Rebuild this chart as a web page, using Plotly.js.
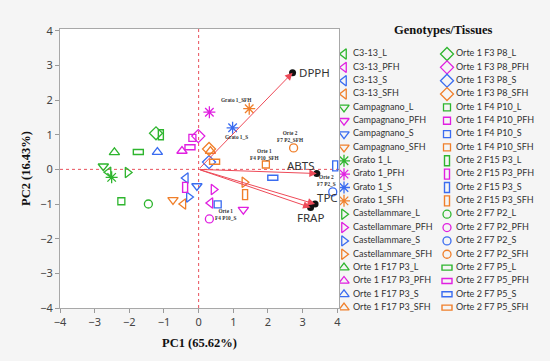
<!DOCTYPE html>
<html><head><meta charset="utf-8">
<script src="https://cdn.plot.ly/plotly-3.0.1.min.js"></script>
<style>html,body{margin:0;padding:0;background:#f5f5f5;}#chart{width:550px;height:361px;}</style>
</head><body><div id="chart"></div>
<script>
// ---- data ----
const genotypes = ['C3-13','Campagnano','Grato 1','Castellammare','Orte 1 F17 P3','Orte 1 F3 P8','Orte 1 F4 P10','Orte 2 F15 P3','Orte 2 F7 P2','Orte 2 F7 P5'];
const tissues = ['L','PFH','S','SFH'];
const pc1L   = [-2.60, -2.75, -2.51, -2.05, -2.43, -1.23, -2.23, -1.09, -1.45, -1.74];
const pc2L   = [-0.08,  0.09, -0.23, -0.09,  0.49,  1.04, -0.92,  1.00, -1.00,  0.50];
const pc1PFH = [ 0.34,  1.29,  0.31,  0.43, -0.48, -0.01, -0.18, -0.39,  0.31, -0.25];
const pc2PFH = [-0.97, -1.16,  1.65, -0.58,  0.53,  0.96,  0.91, -0.52, -1.43,  0.64];
const pc1S   = [-0.37, -0.05,  0.98, -0.28, -1.19,  0.30,  0.55,  3.94,  3.87,  2.14];
const pc2S   = [-0.25, -0.48,  1.20, -0.80,  0.50,  0.21, -1.01,  0.10, -0.65, -0.24];
const pc1SFH = [-0.44, -0.74,  1.46,  1.32,  0.34,  0.30,  1.94,  1.34,  2.74,  0.46];
const pc2SFH = [-1.00, -0.88,  1.75, -0.37,  0.53,  0.59,  0.14, -0.73,  0.62,  0.22];
const loadVars = ['DPPH','ABTS','TPC','FRAP'];
const loadPC1  = [2.71, 3.41, 3.36, 3.23];
const loadPC2  = [2.79, -0.12, -1.00, -1.10];
const pointLabels = ['Grato 1_SFH','Grato 1_S','Orte 2 F7 P2_SFH','Orte 1 F4 P10_SFH','Orte 2 F7 P2_S','Orte 1 F4 P10_S'];

// ---- styles ----
const scoresX = {L:pc1L, PFH:pc1PFH, S:pc1S, SFH:pc1SFH};
const scoresY = {L:pc2L, PFH:pc2PFH, S:pc2S, SFH:pc2SFH};
const tissueColor = {L:'#2eb52e', PFH:'#e01fe0', S:'#3a6cf0', SFH:'#f07f2a'};
const symbolOf = {
  'C3-13':{s:'triangle-left-open',z:9},'Campagnano':{s:'triangle-down-open',z:9},'Grato 1':{s:'asterisk-open',z:10},
  'Castellammare':{s:'triangle-right-open',z:9},'Orte 1 F17 P3':{s:'triangle-up-open',z:9},'Orte 1 F3 P8':{s:'diamond-open',z:10},
  'Orte 1 F4 P10':{s:'square-open',z:7},'Orte 2 F15 P3':{r:[2.5,5]},'Orte 2 F7 P2':{s:'circle-open',z:8},'Orte 2 F7 P5':{r:[5,2.5]}
};
const labelShift = {
  'Grato 1_SFH':[-13,9,'Grato 1_SFH'],'Grato 1_S':[4,-9,'Grato 1_S'],
  'Orte 2 F7 P2_SFH':[-3,11,'Orte 2<br>F7 P2_SFH'],'Orte 1 F4 P10_SFH':[-1,10,'Orte 1<br>F4 P10_SFH'],
  'Orte 2 F7 P2_S':[-6,11,'Orte 2<br>F7 P2_S'],'Orte 1 F4 P10_S':[8,-10,'Orte 1<br>F4 P10_S']
};
const loadShift = {DPPH:[4,0,'left'],ABTS:[-16,8,'center'],TPC:[12,7,'center'],FRAP:[0,-10,'center']};
const arrowColor = '#ee4a58';

const traces = [];
const shapes = [
  {type:'rect', xref:'x domain', yref:'y domain', x0:0, x1:1, y0:0, y1:1, fillcolor:'#ffffff', line:{width:0}, layer:'below'},
  {type:'line', xref:'x', yref:'y domain', x0:0, x1:0, y0:0, y1:1, line:{color:'#e8505c', width:1, dash:'dot'}, layer:'below'},
  {type:'line', xref:'x domain', yref:'y', x0:0, x1:1, y0:0, y1:0, line:{color:'#e8505c', width:1, dash:'dot'}, layer:'below'}
];
const entries = [];
genotypes.forEach((g,gi)=>{
  tissues.forEach(t=>{
    entries.push({g, t, name:g+'_'+t, x:scoresX[t][gi], y:scoresY[t][gi]});
  });
});

function mk(x, y, g, t, xa, ya){
  const sym = symbolOf[g];
  if (sym.r) {
    // rectangle glyph: pixel-sized rect anchored at the data point
    shapes.push({type:'rect', xref:xa, yref:ya, xsizemode:'pixel', ysizemode:'pixel', xanchor:x, yanchor:y,
      x0:-sym.r[0], x1:sym.r[0], y0:-sym.r[1], y1:sym.r[1], line:{color:tissueColor[t], width:1.4},
      fillcolor:'rgba(0,0,0,0)', layer:'above'});
    return;
  }
  traces.push({type:'scatter', mode:'markers', x:[x], y:[y], xaxis:xa, yaxis:ya,
    marker:{symbol:sym.s, size:sym.z, color:tissueColor[t], line:{color:tissueColor[t], width:1.3}},
    cliponaxis:true, hoverinfo:'skip', showlegend:false});
}

// score points
entries.forEach(e=>{ mk(e.x, e.y, e.g, e.t, 'x', 'y'); });

// loading end dots
traces.push({type:'scatter', mode:'markers', x:loadPC1, y:loadPC2, xaxis:'x', yaxis:'y',
  marker:{symbol:'circle', size:7, color:'#111'}, cliponaxis:false, hoverinfo:'skip', showlegend:false});

// custom legend (two columns) in its own hidden axes, units = pixels
const rows = 20, row0 = 54, rowH = 13.35;
const colSym = [4, 107], colTxt = [13, 116];
entries.forEach((e,i)=>{
  const c = Math.floor(i/rows), r = i%rows;
  mk(colSym[c], row0 + r*rowH, e.g, e.t, 'x2', 'y2');
});
traces.push({type:'scatter', mode:'text', xaxis:'x2', yaxis:'y2',
  x: entries.map((e,i)=>colTxt[Math.floor(i/rows)]),
  y: entries.map((e,i)=>row0 + (i%rows)*rowH),
  text: entries.map(e=>e.name), textposition:'middle right',
  textfont:{family:'Lato', size:9, color:'#333'}, cliponaxis:false, hoverinfo:'skip', showlegend:false});

const annotations = [];
loadVars.forEach((v,i)=>{
  annotations.push({x:loadPC1[i], y:loadPC2[i], ax:0, ay:0, axref:'x', ayref:'y', xref:'x', yref:'y',
    text:'', showarrow:true, arrowhead:2, arrowsize:1.5, arrowwidth:1, arrowcolor:arrowColor, standoff:0});
});
loadVars.forEach((v,i)=>{
  const s = loadShift[v];
  annotations.push({x:loadPC1[i], y:loadPC2[i], xref:'x', yref:'y', text:v, showarrow:false,
    xshift:s[0], yshift:s[1], xanchor:s[2], yanchor:'middle',
    font:{family:'Noto Sans', size:11.5, color:'#333'}});
});
pointLabels.forEach(n=>{
  const e = entries.find(q=>q.name===n); const s = labelShift[n];
  annotations.push({x:e.x, y:e.y, xref:'x', yref:'y', text:'<b>'+s[2]+'</b>', showarrow:false, xshift:s[0], yshift:s[1],
    xanchor:'center', yanchor:'middle', font:{family:'Liberation Serif', size:5.3, color:'#333'}});
});
annotations.push({xref:'x2', yref:'y2', x:103, y:30, text:'<b>Genotypes/Tissues</b>', showarrow:false,
  xanchor:'center', yanchor:'middle', font:{family:'Liberation Serif', size:12.5, color:'#111'}});

const axFont = {family:'Noto Sans', size:11, color:'#444'};
const ticks = [-4,-3,-2,-1,0,1,2,3,4];
// plot area spans pixels 29..321 vertically; main axes end at pixel 308
const H = 361 - 29 - 40;
const layout = {
  width:550, height:361,
  margin:{l:60, r:0, t:29, b:40, pad:0},
  paper_bgcolor:'#f5f5f5', plot_bgcolor:'#f5f5f5',
  showlegend:false,
  font:{family:'Noto Sans'},
  xaxis:{domain:[0, 279/490], range:[-4, 4.05], tickvals:ticks, ticks:'outside', ticklen:4, tickcolor:'#9a9a9a',
    showline:true, linecolor:'#a8a8a8', linewidth:1, mirror:true, showgrid:false, zeroline:false, tickfont:axFont,
    title:{text:'<b>PC1 (65.62%)</b>', font:{family:'Liberation Serif', size:12.5, color:'#111'}, standoff:10}},
  yaxis:{domain:[(321-308)/H, 1], range:[-4, 4.05], tickvals:ticks, ticks:'outside', ticklen:4, tickcolor:'#9a9a9a',
    showline:true, linecolor:'#a8a8a8', linewidth:1, mirror:true, showgrid:false, zeroline:false, tickfont:axFont,
    title:{text:'<b>PC2 (16.43%)</b>', font:{family:'Liberation Serif', size:12.5, color:'#111'}, standoff:6}},
  xaxis2:{domain:[280/490, 1], range:[0,210], visible:false, fixedrange:true, anchor:'y2'},
  yaxis2:{domain:[0,1], range:[321, 29], visible:false, fixedrange:true, anchor:'x2'},
  shapes,
  annotations
};
Plotly.newPlot('chart', traces, layout, {staticPlot:true, displayModeBar:false});
</script></body></html>
